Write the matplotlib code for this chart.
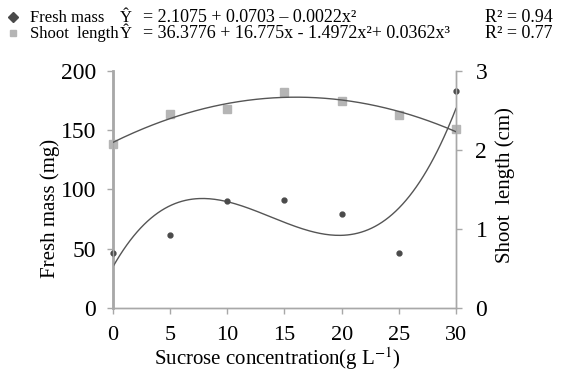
import numpy as np
import matplotlib
matplotlib.use("Agg")
import matplotlib.pyplot as plt
from matplotlib.lines import Line2D

plt.rcParams['font.family'] = ['Liberation Serif', 'DejaVu Serif']
plt.rcParams['mathtext.fontset'] = 'stix'

# data
sucrose = [0, 5, 10, 15, 20, 25, 30]
fresh_mass = [46, 62, 90, 91, 79, 46, 183]              # mg
shoot_length = [2.07, 2.46, 2.52, 2.73, 2.62, 2.44, 2.26]  # cm

eq_fresh = "= 2.1075 + 0.0703 \u2013 0.0022x\u00b2"
eq_shoot = "= 36.3776 + 16.775x - 1.4972x\u00b2+ 0.0362x\u00b3"
r2_fresh = "R\u00b2 = 0.94"
r2_shoot = "R\u00b2 = 0.77"

fig = plt.figure(figsize=(5.61, 3.73), dpi=100)
ax = fig.add_axes([0.2014, 0.1743, 0.6114, 0.6354])
ax2 = ax.twinx()

# trend lines (polynomial fits of the points)
xs = np.linspace(0, 30, 200)
c_fm = np.polyfit(sucrose, fresh_mass, 3)
c_sl = np.polyfit(sucrose, shoot_length, 2)
ax.plot(xs, np.polyval(c_fm, xs), color='#555555', lw=1.0, zorder=3)
ax2.plot(xs, np.polyval(c_sl, xs), color='#555555', lw=1.0, zorder=3)

ax.plot(sucrose, fresh_mass, 'o', color='#4a4a4a', ms=3.5, zorder=4, clip_on=False)
ax2.plot(sucrose, shoot_length, 's', color='#b5b5b5', ms=6, zorder=2, clip_on=False)

ax.set_xlim(0, 30)
ax.set_ylim(0, 200)
ax2.set_ylim(0, 3)
ax.set_xticks(sucrose)
ax.set_yticks([0, 50, 100, 150, 200])
ax2.set_yticks([0, 1, 2, 3])

for a in (ax, ax2):
    a.spines['top'].set_visible(False)
    for s in ('left', 'right', 'bottom'):
        a.spines[s].set_color('#a8a8a8')
        a.spines[s].set_linewidth(1.0)
ax.spines['left'].set_linewidth(2.0)
ax.tick_params(axis='y', colors='#a8a8a8', labelcolor='black', labelsize=17, length=4, width=1, pad=8)
ax.tick_params(axis='x', colors='#a8a8a8', labelcolor='black', labelsize=16, length=4, width=1, pad=9)
ax2.tick_params(axis='y', colors='#a8a8a8', labelcolor='black', labelsize=17, length=4, width=1, pad=10)

ax.set_ylabel("Fresh mass (mg)", fontsize=15, labelpad=1)
ax.yaxis.label.set_y(0.42)
ax2.set_ylabel("Shoot  length (cm)", fontsize=15, labelpad=6)
ax2.yaxis.label.set_y(0.52)
ax.set_xlabel("Sucrose concentration(g L$^{-1}$)", fontsize=15, labelpad=0)
ax.xaxis.label.set_x(0.48)

# legend with regression equations
fig.add_artist(Line2D([0.023], [1 - 17 / 373], transform=fig.transFigure, marker='D',
                      color='#4a4a4a', ms=5, ls='none'))
fig.add_artist(Line2D([0.023], [1 - 33 / 373], transform=fig.transFigure, marker='s',
                      color='#b5b5b5', ms=5, ls='none'))
fig.text(0.0535, 1 - 22 / 373, "Fresh mass", fontsize=12, va='baseline')
fig.text(0.0535, 1 - 38 / 373, "Shoot  length", fontsize=12, va='baseline')
fig.text(0.213, 1 - 22 / 373, "\u0176", fontsize=12, va='baseline')
fig.text(0.213, 1 - 38 / 373, "\u0176", fontsize=12, va='baseline')
fig.text(0.255, 1 - 22 / 373, eq_fresh, fontsize=13, va='baseline')
fig.text(0.255, 1 - 38 / 373, eq_shoot, fontsize=13, va='baseline')
fig.text(0.8645, 1 - 22 / 373, r2_fresh, fontsize=13, va='baseline')
fig.text(0.8645, 1 - 38 / 373, r2_shoot, fontsize=13, va='baseline')

fig.savefig("out.png", dpi=100)
